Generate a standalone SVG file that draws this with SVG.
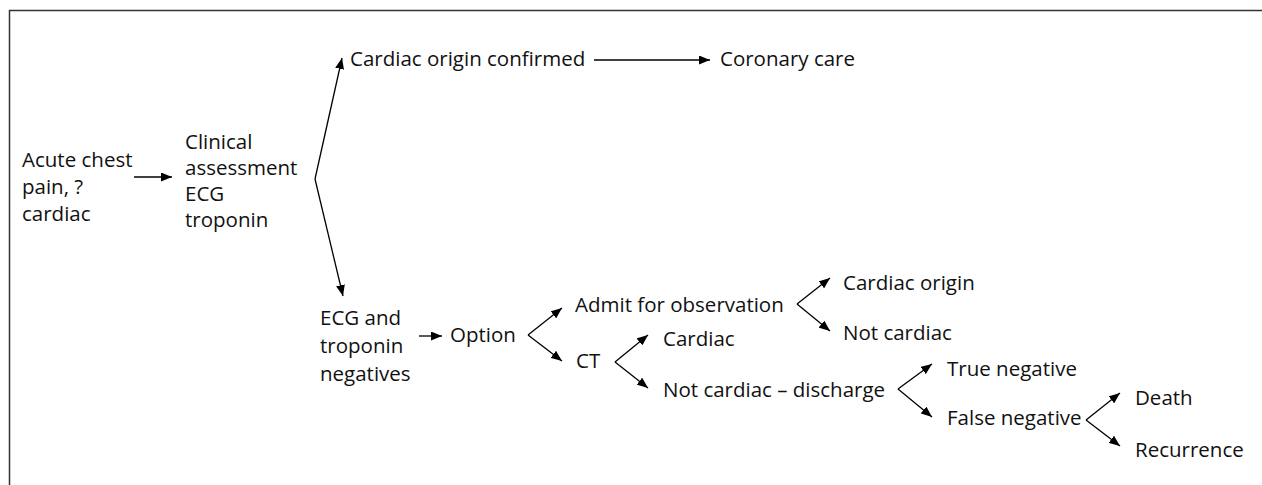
<svg xmlns="http://www.w3.org/2000/svg" width="1262" height="485" viewBox="0 0 1262 485">
<defs>
<marker id="ah" markerUnits="userSpaceOnUse" markerWidth="11" markerHeight="9" refX="11" refY="4.5" orient="auto">
<path d="M0,0 L11,4.5 L0,9 z" fill="#000"/>
</marker>
<style>
text{font-family:"Open Sans",Lato,"Liberation Sans",sans-serif;font-size:20.5px;fill:#111}
.c{stroke:#000;stroke-width:1.3;fill:none;marker-end:url(#ah)}
.f{stroke:#333;stroke-width:1.5;fill:none}
</style>
</defs>
<rect width="1262" height="485" fill="#fff"/>
<path class="f" d="M9.5,485 V10.5 H1262"/>
<g id="connectors">
<line class="c" x1="134" y1="177" x2="172" y2="177"/>
<line class="c" x1="315" y1="179" x2="342" y2="58"/>
<line class="c" x1="315" y1="179" x2="343" y2="296"/>
<line class="c" x1="594" y1="60" x2="710" y2="60"/>
<line class="c" x1="419" y1="336" x2="442" y2="336"/>
<line class="c" x1="528" y1="335" x2="562" y2="308"/>
<line class="c" x1="528" y1="335" x2="562" y2="361"/>
<line class="c" x1="615" y1="362" x2="648" y2="335"/>
<line class="c" x1="615" y1="362" x2="648" y2="388"/>
<line class="c" x1="797" y1="304" x2="830" y2="278"/>
<line class="c" x1="797" y1="304" x2="830" y2="331"/>
<line class="c" x1="898" y1="389" x2="932" y2="364"/>
<line class="c" x1="898" y1="389" x2="932" y2="417"/>
<line class="c" x1="1086" y1="420" x2="1120" y2="393"/>
<line class="c" x1="1086" y1="420" x2="1120" y2="446"/>
</g>
<g id="n-acute"><text x="22" y="167">Acute chest</text><text x="22" y="194">pain, ?</text><text x="22" y="221">cardiac</text></g>
<g id="n-clinical"><text x="185" y="149">Clinical</text><text x="185" y="175">assessment</text><text x="185" y="201">ECG</text><text x="185" y="227">troponin</text></g>
<g id="n-confirmed"><text x="350" y="66">Cardiac origin confirmed</text></g>
<g id="n-coronary"><text x="720" y="66">Coronary care</text></g>
<g id="n-negatives"><text x="320" y="325">ECG and</text><text x="320" y="353">troponin</text><text x="320" y="381">negatives</text></g>
<g id="n-option"><text x="450" y="342">Option</text></g>
<g id="n-admit"><text x="575" y="312">Admit for observation</text></g>
<g id="n-ct"><text x="576" y="368">CT</text></g>
<g id="n-cardiac"><text x="663" y="346">Cardiac</text></g>
<g id="n-discharge"><text x="663" y="397">Not cardiac – discharge</text></g>
<g id="n-cardiac-origin"><text x="843" y="290">Cardiac origin</text></g>
<g id="n-not-cardiac"><text x="843" y="340">Not cardiac</text></g>
<g id="n-true-neg"><text x="947" y="376">True negative</text></g>
<g id="n-false-neg"><text x="947" y="425">False negative</text></g>
<g id="n-death"><text x="1135" y="405">Death</text></g>
<g id="n-recurrence"><text x="1135" y="457">Recurrence</text></g>
</svg>
